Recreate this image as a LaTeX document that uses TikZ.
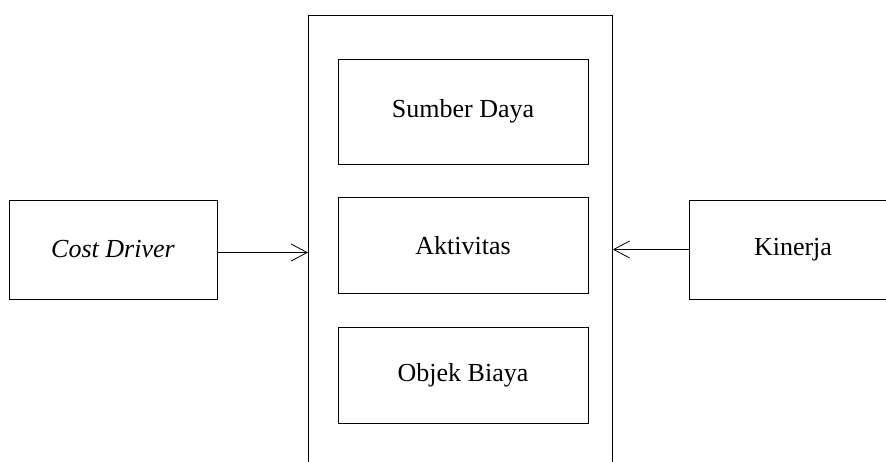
\documentclass[tikz,border=0pt]{standalone}
\usepackage{fontspec}
\setmainfont{Liberation Serif}
\usetikzlibrary{arrows.meta,positioning}
\tikzset{>={Straight Barb[length=8pt,width=8.5pt]},line width=0.9pt}
\tikzset{box/.style={draw,rectangle,minimum width=104pt,minimum height=49.5pt,font=\fontsize{13}{15}\selectfont}}
\tikzset{inner/.style={box,minimum width=125pt,minimum height=48pt}}

\begin{document}
\begin{tikzpicture}[x=0.5pt,y=-0.5pt]
        \useasboundingbox (0,0) rectangle (886,461);
        \node[draw,minimum width=152pt,minimum height=235pt,anchor=north west] (frame) at (308,15) {};
        \node[inner,minimum height=52.5pt] (sumber) at (463,111.5) {Sumber Daya};
        \node[inner] (aktivitas) [below=16.5pt of sumber] {Aktivitas};
        \node[inner] (objek) [below=16.5pt of aktivitas] {Objek Biaya};
        \node[box] (cost) at (113,249.5) {\textit{Cost Driver}};
        \node[box] (kinerja) at (793,249.5) {Kinerja};
        \draw[->] ([yshift=-1.5pt]cost.east) -- ([yshift=-1.5pt]cost.east -| frame.west);
        \draw[->] (kinerja) -- (kinerja -| frame.east);
\end{tikzpicture}
\end{document}
